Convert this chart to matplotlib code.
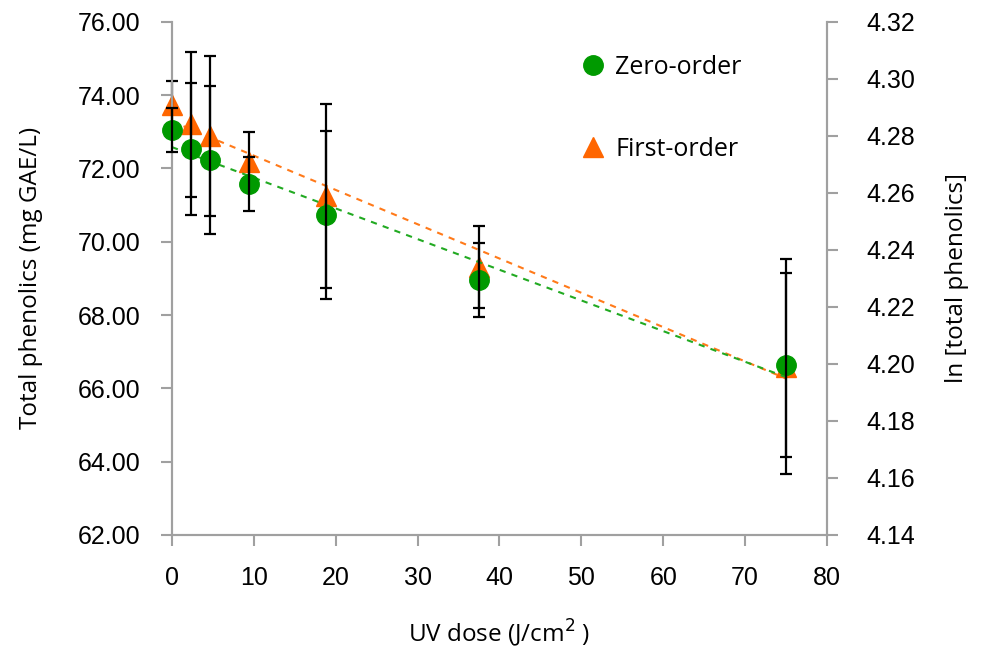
import matplotlib
matplotlib.use("Agg")
import matplotlib.pyplot as plt
import numpy as np

# UV dose (J/cm2)
uv_dose = [0, 2.34, 4.69, 9.375, 18.75, 37.5, 75]

# zero-order: total phenolics (mg GAE/L) with error
zero_order = [73.05, 72.53, 72.23, 71.58, 70.73, 68.96, 66.64]
zero_err = [0.60, 1.80, 2.03, 0.74, 2.28, 1.00, 2.51]

# first-order: ln[total phenolics] with error
first_order = [4.291, 4.284, 4.280, 4.271, 4.259, 4.234, 4.199]
first_err = [0.0084, 0.0253, 0.0281, 0.0103, 0.0322, 0.0145, 0.0377]

left_ticks = [62, 64, 66, 68, 70, 72, 74, 76]
right_ticks = [4.14, 4.16, 4.18, 4.20, 4.22, 4.24, 4.26, 4.28, 4.30, 4.32]
x_ticks = [0, 10, 20, 30, 40, 50, 60, 70, 80]

green = "#009a00"
orange = "#ff6600"
spine_col = "#a0a0a0"

plt.rcParams["font.family"] = ["Liberation Sans", "DejaVu Sans"]

fig = plt.figure(figsize=(9.85, 6.54), dpi=100)
ax = fig.add_axes([0.1746, 0.182, 0.665, 0.7846])
ax2 = ax.twinx()

# trend lines (linear fits)
xs = np.array([uv_dose[0], uv_dose[-1]])
p0 = np.polyfit(uv_dose, zero_order, 1)
p1 = np.polyfit(uv_dose, first_order, 1)
ax.plot(xs, np.polyval(p0, xs), linestyle=(0, (3, 3)), color="#22aa22", lw=1.5, zorder=2)
ax2.plot(xs, np.polyval(p1, xs), linestyle=(0, (3, 3)), color="#ff7a1a", lw=1.5, zorder=2)

# markers
h0, = ax.plot(uv_dose, zero_order, "o", color=green, ms=14, mec=green, zorder=3,
              clip_on=False, label="Zero-order")
h1, = ax2.plot(uv_dose, first_order, "^", color=orange, ms=14, mec=orange, zorder=3,
               clip_on=False, label="First-order")

# error bars on top
eb0 = ax.errorbar(uv_dose, zero_order, yerr=zero_err, fmt="none", ecolor="black", elinewidth=1.6,
                  capsize=4.3, capthick=1.6, zorder=4)
eb1 = ax2.errorbar(uv_dose, first_order, yerr=first_err, fmt="none", ecolor="black", elinewidth=1.6,
                   capsize=4.3, capthick=1.6, zorder=4)
for eb in (eb0, eb1):
    for art in eb.lines[1] + eb.lines[2]:
        art.set_clip_on(False)

ax.set_xlim(0, 80)
ax.set_ylim(62, 76)
ax2.set_ylim(4.14, 4.32)
ax.set_xticks(x_ticks)
ax.set_yticks(left_ticks)
ax.set_yticklabels(["%.2f" % v for v in left_ticks])
ax2.set_yticks(right_ticks)
ax2.set_yticklabels(["%.2f" % v for v in right_ticks])

for a in (ax, ax2):
    a.spines["top"].set_visible(False)
    for s in ("left", "right", "bottom"):
        a.spines[s].set_color(spine_col)
        a.spines[s].set_linewidth(1.5)
    a.tick_params(axis="both", colors=spine_col, labelcolor="black", labelsize=18,
                  length=8, width=1.5, direction="out")
ax.tick_params(axis="x", pad=14)
ax.tick_params(axis="y", pad=15)
ax2.tick_params(axis="y", pad=20)

lab_font = {"family": ["Open Sans", "DejaVu Sans"], "size": 17.5}
ax.set_xlabel("UV dose (J/cm$^2$ )", fontdict=lab_font, labelpad=20)
ax.set_ylabel("Total phenolics (mg GAE/L)", fontdict=lab_font, labelpad=25)
ax2.set_ylabel("ln [total phenolics]", fontdict=lab_font, labelpad=22)

ax.set_zorder(ax2.get_zorder() + 1)
ax.patch.set_visible(False)

leg = ax.legend(handles=[h0, h1], loc="upper left", bbox_to_anchor=(0.585, 0.98), frameon=False,
                labelspacing=2.3, handletextpad=0.3, handlelength=1.2,
                prop={"family": ["Open Sans", "DejaVu Sans"], "size": 18})

fig.savefig("out.png", dpi=100)
